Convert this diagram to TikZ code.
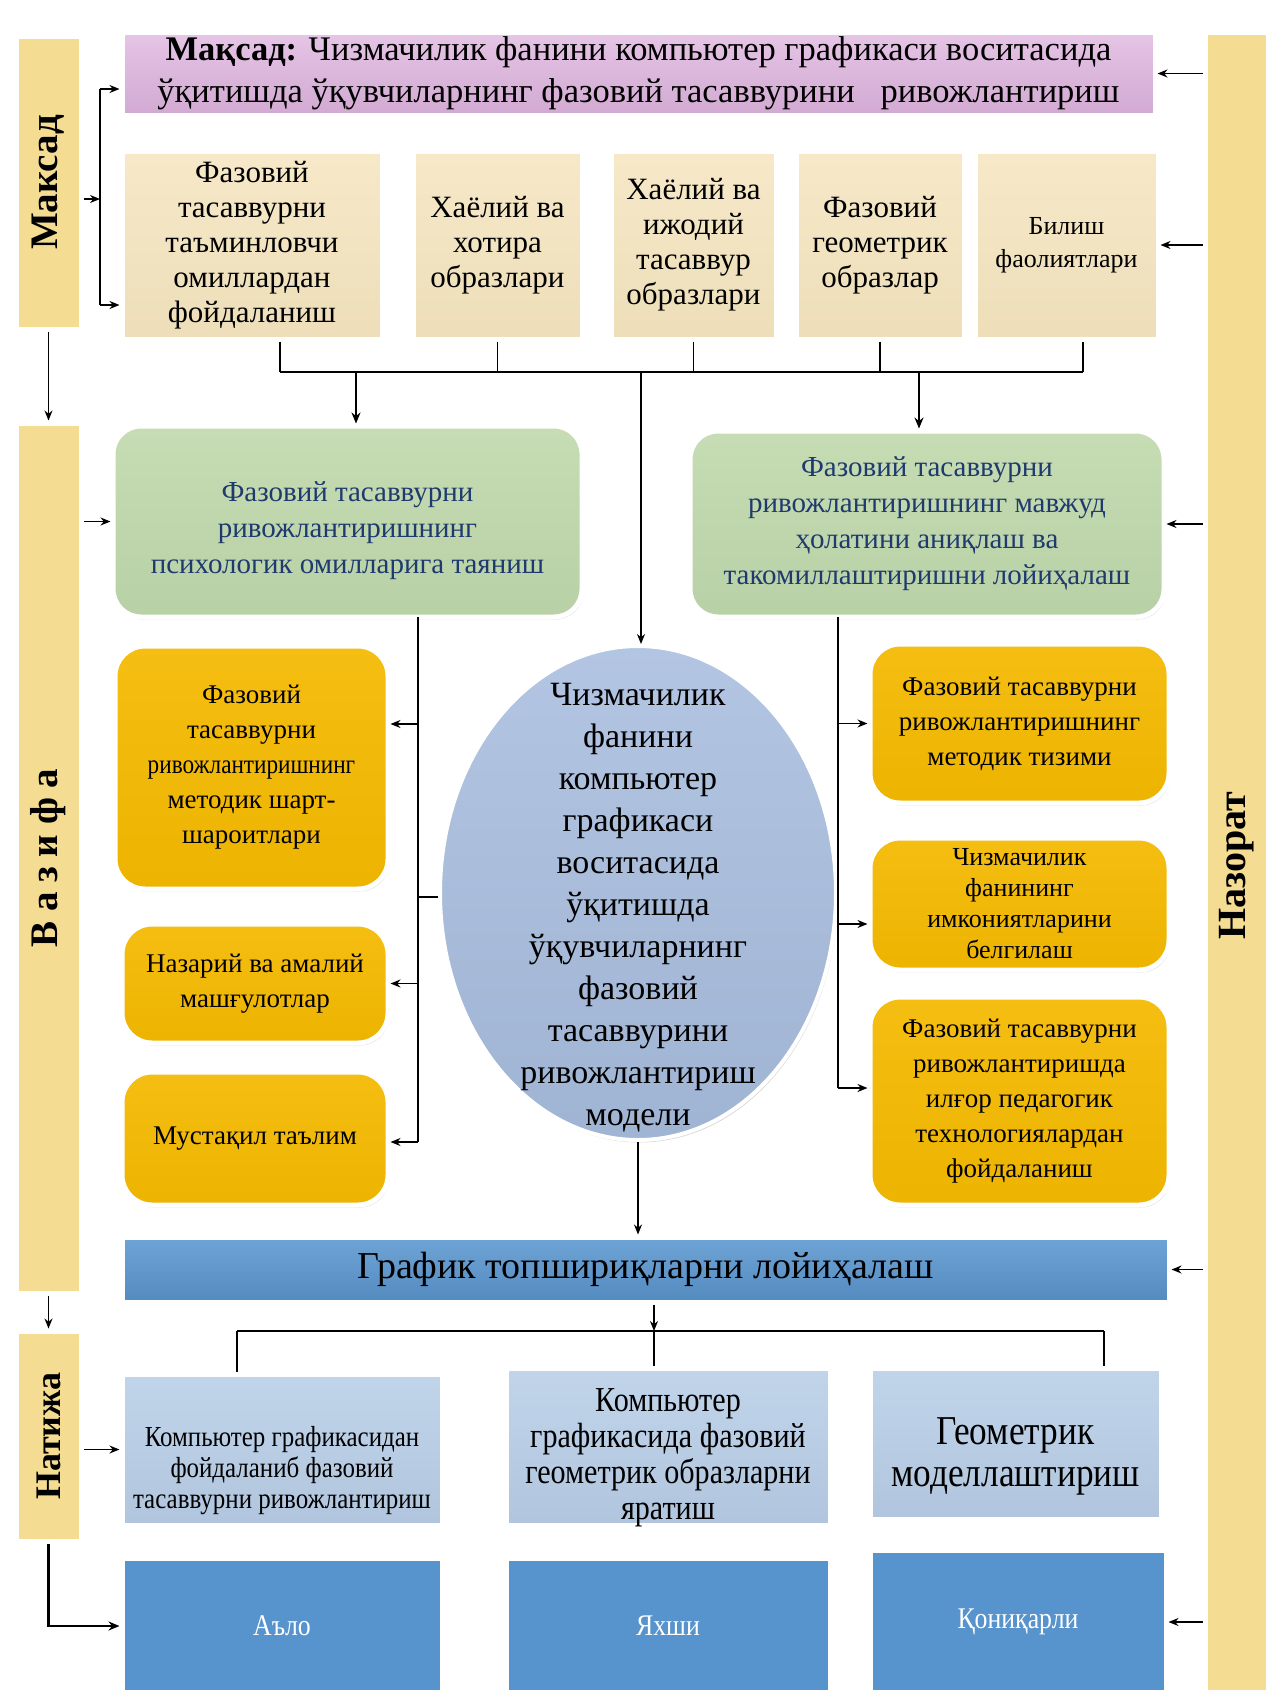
\documentclass[tikz,border=0pt]{standalone}
\usepackage{fontspec}
\setmainfont{Liberation Serif}
\newfontfamily\condf[FakeStretch=0.86]{Liberation Serif}
\usetikzlibrary{shapes.geometric,shadows,arrows.meta}
\definecolor{sideY}{HTML}{F5DC93}
\definecolor{purp}{HTML}{DDB2DD}
\definecolor{tY}{HTML}{F5E5BF}
\definecolor{grn}{HTML}{C0D9AC}
\definecolor{grnT}{HTML}{1F3A6E}
\definecolor{org}{HTML}{F4B900}
\definecolor{ell}{HTML}{A8BDDE}
\definecolor{bbar}{HTML}{5B97D0}
\definecolor{lbl}{HTML}{B8CEE7}
\definecolor{dbl}{HTML}{5793CD}
\newcommand\fsz[2]{\fontsize{#1}{#2}\selectfont}
\newcommand\strt[1]{\rule{0pt}{#1}}
\begin{document}
\begin{tikzpicture}[x=1pt,y=-1pt,
  box/.style={rectangle, draw=white, line width=5pt, inner sep=2pt, align=center,
    drop shadow={shadow xshift=1.5pt,shadow yshift=-2.5pt,opacity=0.3}},
  side/.style={box, fill=sideY, font=\bfseries\fsz{39}{44}},
  tbox/.style={box, top color=tY!85!white, bottom color=tY!97!black, font=\fsz{31}{35}},
  gbox/.style={box, rounded corners=28pt, top color=grn!90!white, bottom color=grn!96!black, text=grnT, font=\fsz{29}{36}},
  obox/.style={box, rounded corners=30pt, top color=org!93!white, bottom color=org!97!black, font=\fsz{27}{35}},
  lbox/.style={box, top color=lbl!88!white, bottom color=lbl!96!black},
  dbox/.style={box, fill=dbl, text=white, font=\condf\fsz{30}{34}},
  ln/.style={line width=1.4pt},
  bus/.style={line width=2.6pt},
  arr/.style={line width=1.4pt, -{Stealth[length=10pt,width=8pt]}},
  barr/.style={line width=2.6pt, -{Stealth[length=11pt,width=9pt]}}
]
\useasboundingbox (0,0) rectangle (1266,1690);
\fill[white] (0,0) rectangle (1266,1690);

% side bars
\node[side, rotate=90, minimum width=293pt, minimum height=65pt] (maksad) at (48.5,182.5) {Максад};
\node[side, rotate=90, minimum width=870pt, minimum height=65pt] (vazifa) at (48.5,858) {В а з и ф а};
\node[side, rotate=90, minimum width=210pt, minimum height=65pt, font=\bfseries\fsz{36}{40}] (natija) at (48.5,1436) {Натижа};
\node[side, rotate=90, minimum width=1680pt, minimum height=64pt, font=\bfseries\fsz{40}{44}] (nazorat) at (1237,872) {\hspace*{12pt}Назорат};

% goal
\node[box, top color=purp!75!white, bottom color=purp!95!black, minimum width=1033pt, minimum height=83pt, font=\fsz{34.5}{42}] (goal) at (638.5,73.5)
 {\textbf{Мақсад:} Чизмачилик фанини компьютер графикаси воситасида\\ ўқитишда ўқувчиларнинг фазовий тасаввурини\ \ \ ривожлантириш};

% top row
\node[tbox, minimum width=260pt, minimum height=188pt] (t1) at (252,245) {Фазовий\\ тасаввурни\\ таъминловчи\\ омиллардан\\ фойдаланиш};
\node[tbox, minimum width=169pt, minimum height=188pt] (t2) at (497.5,245) {Хаёлий ва\\ хотира\\ образлари};
\node[tbox, minimum width=165pt, minimum height=188pt] (t3) at (693.5,245) {Хаёлий ва\\ ижодий\\ тасаввур\\ образлари};
\node[tbox, minimum width=168pt, minimum height=188pt] (t4) at (880,245) {Фазовий\\ геометрик\\ образлар};
\node[tbox, minimum width=183pt, minimum height=188pt, font=\fsz{26}{33}] (t5) at (1066.5,245) {Билиш\\ фаолиятлари};

% green
\node[gbox, minimum width=469pt, minimum height=191pt] (greenL) at (347.5,521.5) {\strt{38pt}Фазовий тасаввурни\\ ривожлантиришнинг\\ психологик омилларига таяниш};
\node[gbox, minimum width=474pt, minimum height=186pt] (greenR) at (927,524) {Фазовий тасаввурни\\ ривожлантиришнинг мавжуд\\ ҳолатини аниқлаш ва\\ такомиллаштиришни лойиҳалаш};

% left orange
\node[obox, minimum width=273pt, minimum height=243pt] (oL1) at (251.5,767.5) {Фазовий\\ тасаввурни\\ {\condf ривожлантиришнинг}\\ методик шарт-\\ шароитлари};
\node[obox, minimum width=266pt, minimum height=119pt] (oL2) at (255,983.5) {Назарий ва амалий\\ машғулотлар};
\node[obox, minimum width=266pt, minimum height=133pt] (oL3) at (255,1138.5) {Мустақил таълим};

% ellipse
\node[ellipse, draw=white, line width=4pt, top color=ell!88!white, bottom color=ell!95!black, minimum width=396pt, minimum height=494pt, inner xsep=0pt, inner ysep=-85pt, align=center, font=\fsz{34}{42},
  drop shadow={shadow xshift=1.5pt,shadow yshift=-2.5pt,opacity=0.3}] (ell) at (638,893)
 {\strt{52pt}Чизмачилик\\ фанини\\ компьютер\\ графикаси\\ воситасида\\ ўқитишда\\ ўқувчиларнинг\\ фазовий\\ тасаввурини\\ ривожлантириш\\ модели};

% right orange
\node[obox, minimum width=299pt, minimum height=159pt] (oR1) at (1019.5,723.5) {Фазовий тасаввурни\\ ривожлантиришнинг\\ методик тизими};
\node[obox, minimum width=299pt, minimum height=132pt, font=\fsz{26}{31}] (oR2) at (1019.5,904) {Чизмачилик\\ фанининг\\ имкониятларини\\ белгилаш};
\node[obox, minimum width=299pt, minimum height=208pt] (oR3) at (1019.5,1101) {Фазовий тасаввурни\\ ривожлантиришда\\ илғор педагогик\\ технологиялардан\\ фойдаланиш};

% blue bar
\node[box, top color=bbar!88!white, bottom color=bbar!92!black, minimum width=1047pt, minimum height=65pt, font=\fsz{38}{44}] (bbar) at (645.5,1269.5) {График топшириқларни лойиҳалаш};

% light blue
\node[lbox, minimum width=320pt, minimum height=151pt, font=\condf\fsz{29}{31}] (lb1) at (282,1449.5) {\strt{62pt}Компьютер графикасидан\\ фойдаланиб фазовий\\ тасаввурни ривожлантириш};
\node[lbox, minimum width=324pt, minimum height=157pt, inner ysep=-15pt, font=\condf\fsz{35}{36}] (lb2) at (668,1446.5) {\strt{46pt}Компьютер\\ графикасида фазовий\\ геометрик образларни\\ яратиш};
\node[lbox, minimum width=291pt, minimum height=151pt, font=\condf\fsz{41}{42}] (lb3) at (1015.5,1443.5) {\strt{52pt}Геометрик\\ моделлаштириш};

% dark blue
\node[dbox, minimum width=320pt, minimum height=135pt] (db1) at (282,1626) {Аъло};
\node[dbox, minimum width=324pt, minimum height=135pt] (db2) at (668,1626) {Яхши};
\node[dbox, minimum width=296pt, minimum height=143pt] (db3) at (1018,1622) {Қониқарли};

% ---- connectors ----
% Maksad bracket
\coordinate (bk1) at (100,89);
\coordinate (bk2) at (100,305);
\coordinate (bkm) at (100,199);
\draw[arr] (maksad.south |- bkm) -- (bkm);
\draw[ln] (bk1) -- (bk2);
\draw[arr] (bk1) -- (bk1 -| goal.west);
\draw[arr] (bk2) -- (bk2 -| t1.west);

% side chain
\draw[arr] (maksad.west) -- (vazifa.east);
\draw[arr] (vazifa.west) -- (natija.east);
\draw[arr] (vazifa.south |- greenL.west) -- (greenL.west);
\draw[arr] (natija.south |- lb1.west) -- (lb1.west);
\draw[barr] (natija.west) -- (natija.west |- db1.west) -- (db1.west);

% nazorat arrows
\draw[arr] (nazorat.north |- goal.east) -- (goal.east);
\draw[arr] (nazorat.north |- t5.east) -- (t5.east);
\draw[arr] (nazorat.north |- greenR.east) -- (greenR.east);
\draw[arr] (nazorat.north |- bbar.east) -- (bbar.east);
\draw[arr] (nazorat.north |- db3.east) -- (db3.east);

% top bus
\coordinate (busL) at (280,372);
\coordinate (busR) at (1083,372);
\coordinate (bA) at (356,372);
\coordinate (bB) at (919,372);
\coordinate (bC) at (641,372);
\draw[ln] (busL |- t1.south) -- (busL);
\draw[ln] (t2.south) -- (t2.south |- busL);
\draw[ln] (t3.south) -- (t3.south |- busL);
\draw[ln] (t4.south) -- (t4.south |- busL);
\draw[ln] (busR |- t5.south) -- (busR);
\draw[bus] (busL) -- (busR);
\draw[barr] (bA) -- (bA |- greenL.north);
\draw[barr] (bB) -- (bB |- greenR.north);
\draw[arr] (bC) -- (bC |- ell.north);

% left branch
\coordinate (lT) at (418,617);
\coordinate (lB) at (418,1142);
\coordinate (la1) at (418,724);
\coordinate (le) at (418,897);
\draw[ln] (lT) -- (lB);
\draw[arr] (la1) -- (la1 -| oL1.east);
\draw[arr] (lT |- oL2.east) -- (oL2.east);
\draw[arr] (lB) -- (lB -| oL3.east);
\draw[ln] (le) -- (le -| ell.west);

% right branch
\coordinate (rT) at (838,617);
\coordinate (rB) at (838,1088);
\coordinate (ra2) at (838,924);
\coordinate (re) at (838,897);
\draw[ln] (rT) -- (rB);
\draw[arr] (rT |- oR1.west) -- (oR1.west);
\draw[arr] (ra2) -- (ra2 -| oR2.west);
\draw[arr] (rB) -- (rB -| oR3.west);
\draw[ln] (re) -- (re -| ell.east);

% ellipse to bar
\draw[arr] (ell.south) -- (ell.south |- bbar.north);

% bottom bus
\coordinate (b2L) at (237,1331);
\coordinate (b2R) at (1104,1331);
\coordinate (b2C) at (654,1331);
\draw[arr] (b2C |- bbar.south) -- (b2C);
\draw[ln] (b2C) -- (b2C |- lb2.north);
\draw[ln] (b2L) -- (b2R);
\draw[ln] (b2L) -- (b2L |- lb1.north);
\draw[ln] (b2R) -- (b2R |- lb3.north);
\end{tikzpicture}
\end{document}
